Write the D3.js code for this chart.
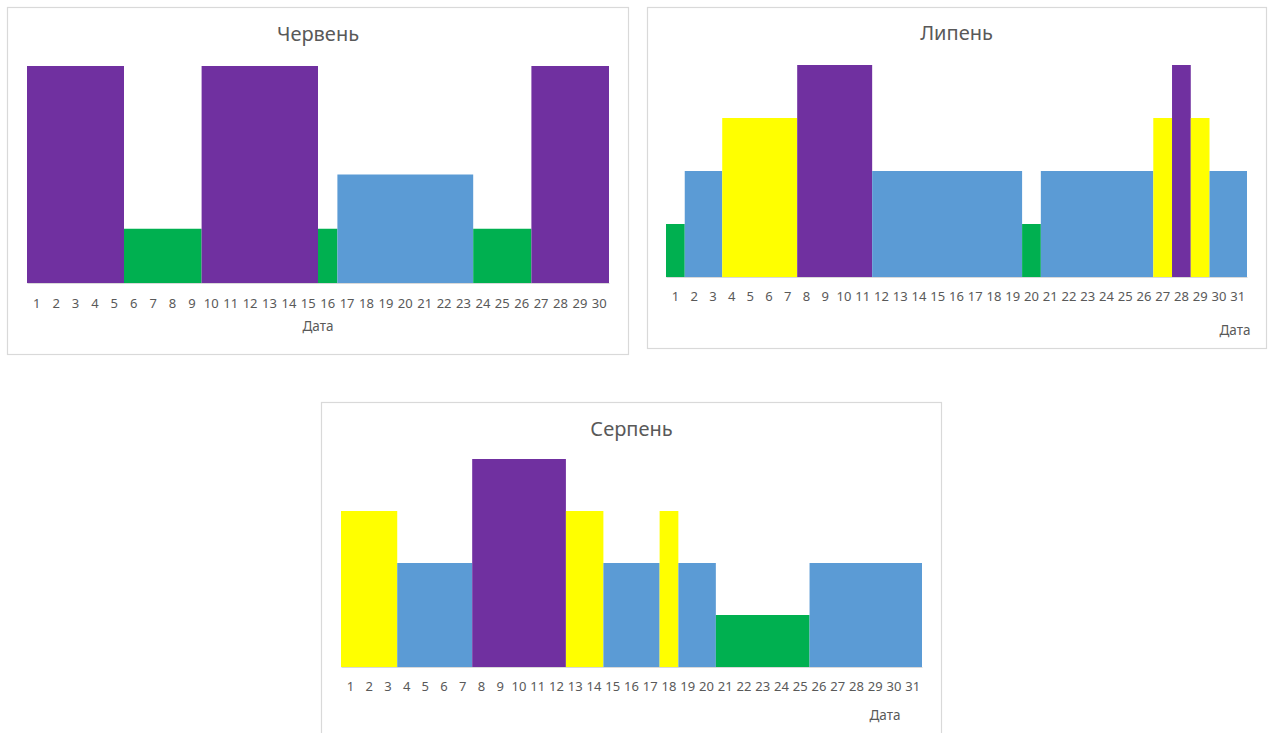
<!DOCTYPE html>
<html>
<head>
<meta charset="utf-8">
<script src="https://cdn.jsdelivr.net/npm/d3@7"></script>
<style>
  body { margin: 0; background: #fff; }
  svg { display: block; font-family: "Noto Sans", sans-serif; }
</style>
</head>
<body>
<svg id="chart" width="1272" height="733"></svg>
<script>
// рівень для кожного дня місяця (1 - зелений, 2 - синій, 3 - жовтий, 4 - фіолетовий)
const levelColors = { 1: "#00B050", 2: "#5B9BD5", 3: "#FFFF00", 4: "#7030A0" };

const juneTitle = "Червень";
const juneLevels = [4,4,4,4,4,1,1,1,1,4,4,4,4,4,4,1,2,2,2,2,2,2,2,1,1,1,4,4,4,4];

const julyTitle = "Липень";
const julyLevels = [1,2,2,3,3,3,3,4,4,4,4,2,2,2,2,2,2,2,2,1,2,2,2,2,2,2,3,4,3,2,2];

const augustTitle = "Серпень";
const augustLevels = [3,3,3,2,2,2,2,4,4,4,4,4,3,3,2,2,2,3,2,2,1,1,1,1,1,2,2,2,2,2,2];

const axisTitle = "Дата";

const svg = d3.select("#chart");

// box = рамка, plot = область стовпців, axisX = центр підпису "Дата"
const charts = [
    { title: juneTitle, levels: juneLevels,
      box: [7, 7, 621, 347], plot: [27, 66, 609, 283], titleY: 41, tickY: 308, axisX: 318, axisY: 331 },
    { title: julyTitle, levels: julyLevels,
      box: [647, 7, 619, 341], plot: [666, 65, 1247, 277], titleY: 40, tickY: 301, axisX: 1235, axisY: 335 },
    { title: augustTitle, levels: augustLevels,
      box: [321, 402, 620, 340], plot: [341, 459, 922, 667], titleY: 436, tickY: 691, axisX: 885, axisY: 720 }
];

// сусідні дні з однаковим рівнем зливаються в один стовпець (як в Excel без проміжків)
function toRuns(levels) {
    const runs = [];
    levels.forEach((v, i) => {
        const last = runs[runs.length - 1];
        if (last && last.level === v) last.end = i + 1;
        else runs.push({ level: v, start: i + 1, end: i + 1 });
    });
    return runs;
}

function drawChart(c) {
    const g = svg.append("g");
    const [bx, by, bw, bh] = c.box;
    const [x0, y0, x1, y1] = c.plot;

    g.append("rect")
        .attr("x", bx + 0.5).attr("y", by + 0.5)
        .attr("width", bw).attr("height", bh)
        .attr("fill", "#fff")
        .attr("stroke", "#d9d9d9")
        .attr("stroke-width", 1.2);

    const days = c.levels.map((v, i) => i + 1);
    const x = d3.scaleBand().domain(days).range([x0, x1]).padding(0);
    const y = d3.scaleLinear().domain([0, 4]).range([y1, y0]);

    g.selectAll("rect.bar")
        .data(toRuns(c.levels))
        .join("rect")
        .attr("class", "bar")
        .attr("x", d => x(d.start))
        .attr("width", d => x(d.end) + x.bandwidth() - x(d.start))
        .attr("y", d => y(d.level))
        .attr("height", d => y(0) - y(d.level))
        .attr("fill", d => levelColors[d.level]);

    // вісь X
    const axis = d3.axisBottom(x).tickSize(0).tickPadding(0);
    const ax = g.append("g")
        .attr("transform", `translate(0,${y1})`)
        .call(axis);
    ax.select(".domain").attr("stroke", "#d9d9d9").attr("stroke-width", 1.2);
    ax.selectAll("text")
        .attr("y", c.tickY - y1)
        .attr("dy", 0)
        .attr("fill", "#595959")
        .style("font-size", "13px")
        .style("font-family", "Noto Sans, sans-serif");

    g.append("text")
        .attr("x", (x0 + x1) / 2)
        .attr("y", c.titleY)
        .attr("text-anchor", "middle")
        .attr("fill", "#595959")
        .style("font-size", "20px")
        .text(c.title);

    g.append("text")
        .attr("x", c.axisX)
        .attr("y", c.axisY)
        .attr("text-anchor", "middle")
        .attr("fill", "#595959")
        .style("font-size", "13.5px")
        .text(axisTitle);
}

charts.forEach(drawChart);
</script>
</body>
</html>
